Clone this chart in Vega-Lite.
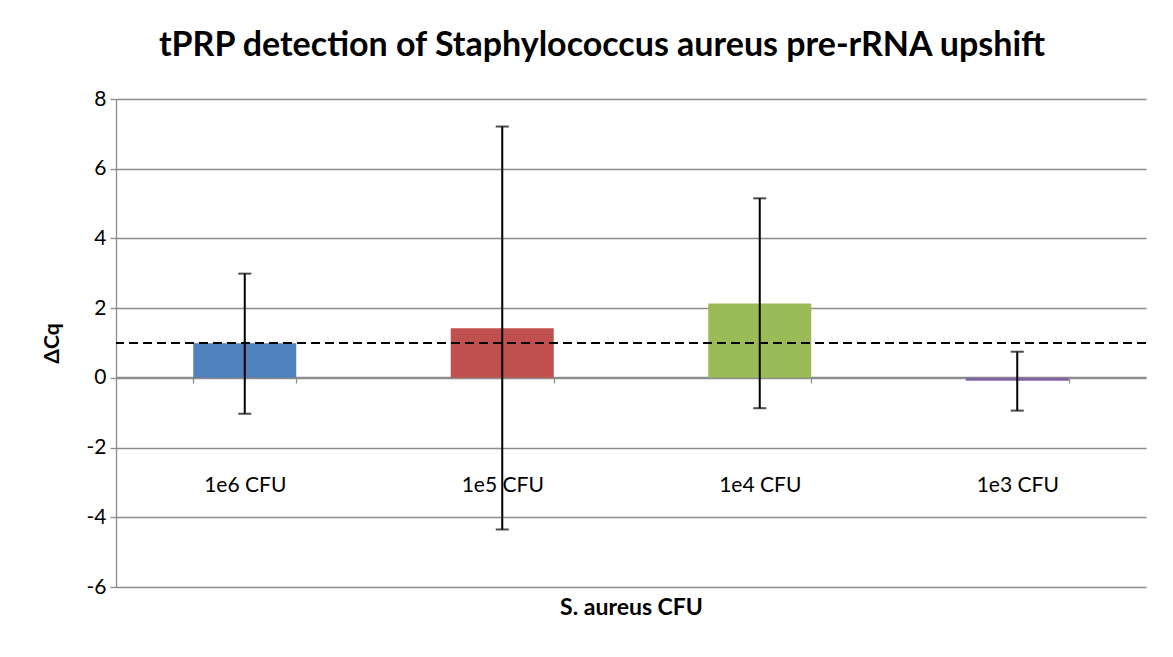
{
  "$schema": "https://vega.github.io/schema/vega-lite/v6.json",
  "width": 1030,
  "height": 488,
  "autosize": {"type": "none"},
  "padding": {"left": 116, "top": 99, "right": 27, "bottom": 70},
  "background": "white",
  "title": {
    "text": "tPRP detection of Staphylococcus aureus pre-rRNA upshift",
    "font": "Lato",
    "fontSize": 34,
    "fontWeight": "bold",
    "color": "black",
    "anchor": "middle",
    "dx": -29,
    "offset": 25
  },
  "config": {
    "view": {"stroke": null},
    "font": "Lato"
  },
  "data": {
    "values": [
      {"cfu": "1e6 CFU", "dcq": 0.99, "lo": -1.03, "hi": 2.99},
      {"cfu": "1e5 CFU", "dcq": 1.42, "lo": -4.35, "hi": 7.21},
      {"cfu": "1e4 CFU", "dcq": 2.13, "lo": -0.87, "hi": 5.15},
      {"cfu": "1e3 CFU", "dcq": -0.08, "lo": -0.94, "hi": 0.75}
    ]
  },
  "encoding": {
    "x": {
      "field": "cfu",
      "type": "nominal",
      "sort": null,
      "scale": {"paddingInner": 0.6, "paddingOuter": 0.3},
      "axis": {
        "title": "S. aureus CFU",
        "titleFont": "Lato",
        "titleFontSize": 23,
        "titleFontWeight": "bold",
        "titleColor": "black",
        "titlePadding": 101,
        "labelAngle": 0,
        "labelFont": "Lato",
        "labelFontSize": 21,
        "labelColor": "black",
        "labelPadding": 91,
        "offset": -210,
        "domainColor": "#8c8c8c",
        "domainWidth": 1.3,
        "tickColor": "#8c8c8c",
        "tickWidth": 1.3,
        "tickSize": 6,
        "tickBand": "extent",
        "grid": false,
        "zindex": 0
      }
    }
  },
  "layer": [
    {
      "mark": {"type": "bar"},
      "encoding": {
        "y": {
          "field": "dcq",
          "type": "quantitative",
          "scale": {"domain": [-6, 8], "nice": false, "zero": false},
          "axis": {
            "title": "ΔCq",
            "titleFont": "Lato",
            "titleFontSize": 21,
            "titleFontWeight": "bold",
            "titleColor": "black",
            "titlePadding": 24,
            "values": [-6, -4, -2, 0, 2, 4, 6, 8],
            "labelExpr": "toString(datum.value)",
            "labelFont": "Lato",
            "labelFontSize": 21,
            "labelColor": "black",
            "labelPadding": 4,
            "domainColor": "#8c8c8c",
            "domainWidth": 1.3,
            "tickColor": "#8c8c8c",
            "tickWidth": 1.3,
            "tickSize": 6,
            "grid": true,
            "gridColor": "#8c8c8c",
            "gridWidth": 1.3
          }
        },
        "color": {
          "field": "cfu",
          "type": "nominal",
          "sort": null,
          "scale": {
            "domain": ["1e6 CFU", "1e5 CFU", "1e4 CFU", "1e3 CFU"],
            "range": ["#4F81BD", "#C0504D", "#9BBB59", "#8064A2"]
          },
          "legend": null
        }
      }
    },
    {
      "mark": {"type": "rule", "color": "black", "strokeWidth": 2},
      "encoding": {
        "y": {"field": "lo", "type": "quantitative"},
        "y2": {"field": "hi"}
      }
    },
    {
      "mark": {"type": "tick", "color": "black", "size": 13, "thickness": 2, "orient": "horizontal"},
      "encoding": {
        "y": {"field": "lo", "type": "quantitative"}
      }
    },
    {
      "mark": {"type": "tick", "color": "black", "size": 13, "thickness": 2, "orient": "horizontal"},
      "encoding": {
        "y": {"field": "hi", "type": "quantitative"}
      }
    },
    {
      "data": {"values": [{"threshold": 1}]},
      "mark": {"type": "rule", "color": "black", "strokeWidth": 2, "strokeDash": [9, 5]},
      "encoding": {
        "y": {"field": "threshold", "type": "quantitative"},
        "x": null
      }
    }
  ]
}
